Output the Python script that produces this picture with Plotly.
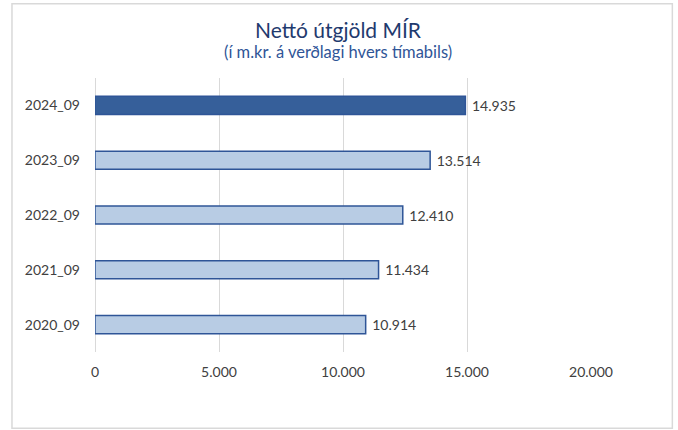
import plotly.graph_objects as go

periods = ["2020_09", "2021_09", "2022_09", "2023_09", "2024_09"]
values = [10914, 11434, 12410, 13514, 14935]
x_ticks = [0, 5000, 10000, 15000, 20000]

fill_colors = ["#B8CCE4", "#B8CCE4", "#B8CCE4", "#B8CCE4", "#365F9A"]
line_colors = ["#2F5597", "#2F5597", "#2F5597", "#2F5597", "#2F5597"]

FONT = "Lato"

fig = go.Figure()
fig.add_trace(go.Bar(
    y=periods,
    x=values,
    orientation="h",
    marker=dict(color=fill_colors, line=dict(color=line_colors, width=1.5)),
    text=values,
    texttemplate=" %{x:,}",
    textposition="outside",
    textfont=dict(family=FONT, size=14, color="#404040"),
    cliponaxis=False,
    hoverinfo="skip",
))

fig.update_layout(
    width=678,
    height=430,
    margin=dict(l=95, r=87, t=77.5, b=77.5, autoexpand=False),
    paper_bgcolor="white",
    plot_bgcolor="white",
    separators=",.",
    bargap=0.67,
    showlegend=False,
    font=dict(family=FONT, size=14, color="#404040"),
    xaxis=dict(
        range=[0, 20000],
        tickvals=x_ticks,
        tickformat=",d",
        showgrid=True,
        gridcolor="#D9D9D9",
        gridwidth=1,
        zeroline=True,
        zerolinecolor="#D9D9D9",
        zerolinewidth=1,
        showline=False,
        ticks="",
        ticklabelstandoff=10,
        tickfont=dict(family=FONT, size=14, color="#404040"),
        automargin=False,
        fixedrange=True,
    ),
    yaxis=dict(
        type="category",
        categoryorder="array",
        categoryarray=periods,
        showgrid=False,
        showline=False,
        ticks="",
        ticklabelstandoff=14,
        tickfont=dict(family=FONT, size=14, color="#404040"),
        automargin=False,
        fixedrange=True,
    ),
    shapes=[dict(
        type="rect", xref="paper", yref="paper",
        x0=-0.1674, x1=1.164, y0=-0.278, y1=1.2709,
        line=dict(color="#D9D9D9", width=1.5),
        fillcolor="rgba(0,0,0,0)", layer="below",
    )],
    annotations=[
        dict(text="Nettó útgjöld MÍR",
             xref="paper", yref="paper",
             x=0.49, y=1.1767, xanchor="center", yanchor="middle", showarrow=False,
             font=dict(family=FONT, size=21, color="#1F3A6E")),
        dict(text="(í m.kr. á verðlagi hvers tímabils)",
             xref="paper", yref="paper",
             x=0.49, y=1.096, xanchor="center", yanchor="middle", showarrow=False,
             font=dict(family=FONT, size=16.5, color="#2F5597")),
    ],
)

fig.write_html("out.html", config={"displayModeBar": False},
               post_script="document.body.style.margin='0';")
